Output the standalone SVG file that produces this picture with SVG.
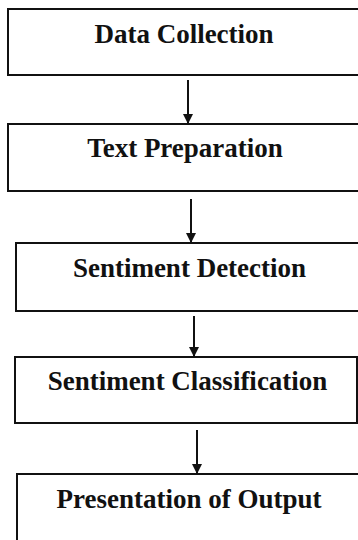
<svg xmlns="http://www.w3.org/2000/svg" width="358" height="540" viewBox="0 0 358 540">
  <defs>
    <style>
      .box { fill: #ffffff; stroke: #111111; stroke-width: 2; }
      .lbl { font-family: "Liberation Serif", "Times New Roman", serif; font-weight: bold; font-size: 27px; fill: #111111; text-anchor: middle; }
      .conn { stroke: #111111; stroke-width: 2; fill: none; marker-end: url(#arrow); }
    </style>
    <marker id="arrow" markerWidth="10" markerHeight="12" refX="9" refY="5" orient="auto" markerUnits="userSpaceOnUse">
      <path d="M0,0 L10,5 L0,10 Z" fill="#111111"/>
    </marker>
  </defs>
  <rect width="358" height="540" fill="#ffffff"/>
  <g id="node-data-collection">
    <rect class="box" x="8" y="9" width="370" height="66"/>
    <text class="lbl" x="184" y="43">Data Collection</text>
  </g>
  <g id="node-text-preparation">
    <rect class="box" x="8" y="124" width="370" height="67"/>
    <text class="lbl" x="185" y="157">Text Preparation</text>
  </g>
  <g id="node-sentiment-detection">
    <rect class="box" x="16" y="243" width="362" height="68"/>
    <text class="lbl" x="189.5" y="277">Sentiment Detection</text>
  </g>
  <g id="node-sentiment-classification">
    <rect class="box" x="15" y="357" width="342" height="66"/>
    <text class="lbl" x="187.5" y="390">Sentiment Classification</text>
  </g>
  <g id="node-presentation-of-output">
    <rect class="box" x="17" y="474" width="361" height="90"/>
    <text class="lbl" x="189" y="508">Presentation of Output</text>
  </g>
  <g id="connectors">
    <line class="conn" x1="188" y1="80" x2="188" y2="123"/>
    <line class="conn" x1="191" y1="199" x2="191" y2="242"/>
    <line class="conn" x1="194" y1="316" x2="194" y2="356"/>
    <line class="conn" x1="197" y1="430" x2="197" y2="473"/>
  </g>
</svg>
